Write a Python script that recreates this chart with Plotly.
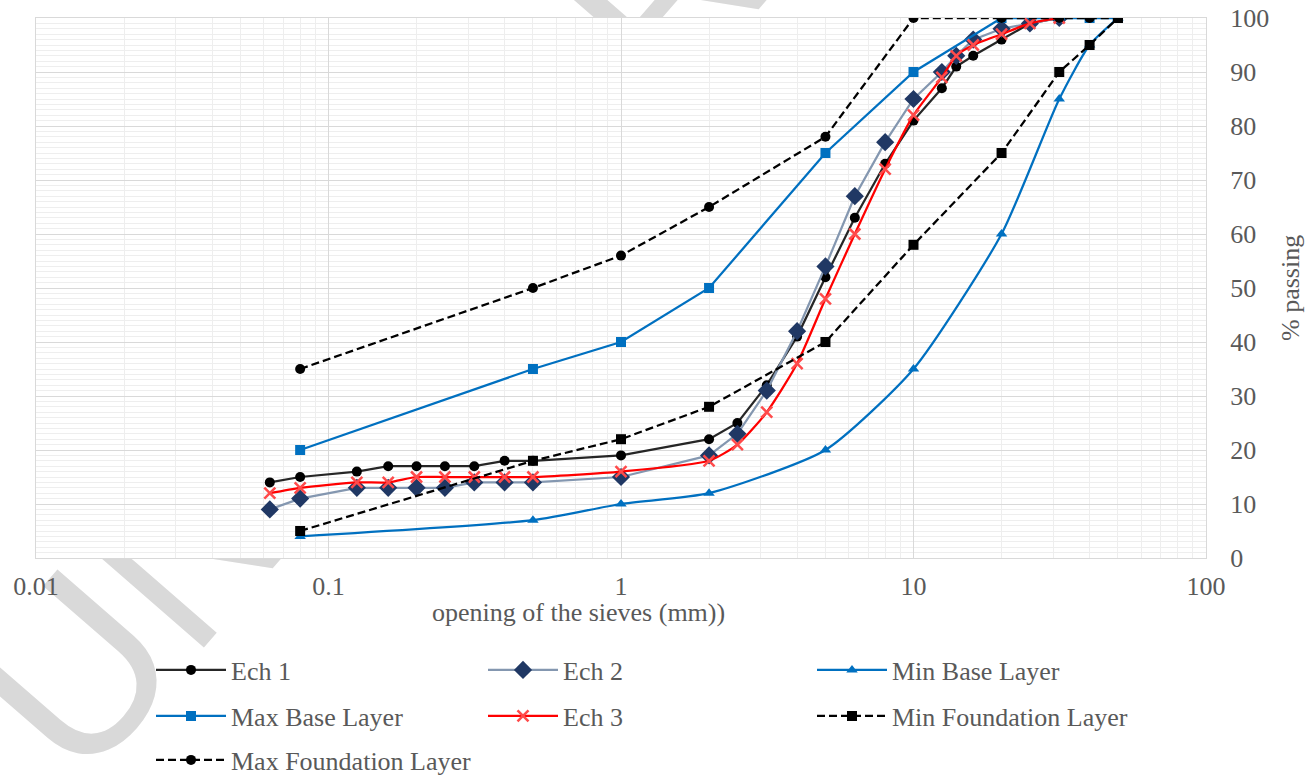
import base64
import plotly.graph_objects as go

# ---------------- data ----------------
sieves_ech = [0.063, 0.08, 0.125, 0.16, 0.2, 0.25, 0.315, 0.4, 0.5, 1, 2, 2.5,
              3.15, 4, 5, 6.3, 8, 10, 12.5, 14, 16, 20, 25, 31.5]
ech1 = [14, 15, 16, 17, 17, 17, 17, 18, 18, 19, 22, 25, 32, 41, 52, 63, 73, 81,
        87, 91, 93, 96, 99, 100]
ech2 = [9, 11, 13, 13, 13, 13, 14, 14, 14, 15, 19, 23, 31, 42, 54, 67, 77, 85,
        90, 93, 96, 98, 99, 100]
ech3 = [12, 13, 14, 14, 15, 15, 15, 15, 15, 16, 18, 21, 27, 36, 48, 60, 72, 82,
        89, 93, 95, 97, 99, 100]

sieves_spec = [0.08, 0.5, 1, 2, 5, 10, 20, 31.5, 40, 50]
min_base = [4, 7, 10, 12, 20, 35, 60, 85, 95, 100]
max_base = [20, 35, 40, 50, 75, 90, 100, 100, 100, 100]
min_found = [5, 18, 22, 28, 40, 58, 75, 90, 95, 100]
max_found = [35, 50, 56, 65, 78, 100, 100, 100, 100, 100]

x_ticks = [0.01, 0.1, 1, 10, 100]
x_title = "opening of the sieves (mm))"
y_title = "% passing"

# ---------------- style ----------------
W, H = 1308, 776
ML, MR, MT, MB = 36, 102, 18, 218
pw, ph = W - ML - MR, H - MT - MB
FONT = "Liberation Serif, Times New Roman, serif"
TXT = "#595959"
BLUE = "#0070C0"


def ypx(p):
    return (MT + ph - p) / ph


def xpx(p):
    return (p - ML) / pw


# legend slot of each entry (pixel position of its symbol), 3 columns x 3 rows
cols = [151, 483, 812]
rows = [670, 716, 760]

fig = go.Figure()
traces = []


def add(name, x, y, lcolor, symbol, msize, mcolor, slot, dash="solid",
        shape="linear", mline=0, mlcolor=None):
    lid = "legend" if not traces else f"legend{len(traces) + 1}"
    traces.append((lid, slot))
    fig.add_trace(go.Scatter(
        x=x, y=y, name=name, mode="lines+markers", legend=lid, showlegend=True,
        line=dict(color=lcolor, width=2.25, dash=dash, shape=shape, smoothing=0.6),
        marker=dict(symbol=symbol, size=msize, color=mcolor,
                    line=dict(width=mline, color=mlcolor or mcolor)),
    ))


add("Ech 1", sieves_ech, ech1, "#262626", "circle", 10, "#000000", (0, 0))
add("Ech 2", sieves_ech, ech2, "#8497B0", "diamond", 14, "#203864", (1, 0))
add("Min Base Layer", sieves_spec, min_base, BLUE, "triangle-up", 10, BLUE, (2, 0),
    shape="spline")
add("Max Base Layer", sieves_spec, max_base, BLUE, "square", 10, BLUE, (0, 1))
add("Ech 3", sieves_ech, ech3, "#FF0000", "x-thin", 11, "#FF4B4B", (1, 1),
    shape="spline", mline=2.5, mlcolor="#FF4B4B")
add("Min Foundation Layer", sieves_spec, min_found, "#000000", "square", 10, "#000000",
    (2, 1), dash="8px,4px")
add("Max Foundation Layer", sieves_spec, max_found, "#000000", "circle", 10, "#000000",
    (0, 2), dash="8px,4px")

# ---------------- watermark (behind the plot area) ----------------
svg = f'''<svg xmlns="http://www.w3.org/2000/svg" width="{W}" height="{H}" viewBox="0 0 {W} {H}">
<defs><clipPath id="c"><path clip-rule="evenodd" d="M0 0H{W}V{H}H0Z M{ML} {MT}H{ML+pw}V{MT+ph}H{ML}Z"/></clipPath></defs>
<g clip-path="url(#c)"><text x="0" y="0" transform="translate(80,790) rotate(-49)"
font-family="Liberation Sans, Arial, sans-serif" font-size="235" fill="#d9d9d9">UNDER REVIEW</text></g></svg>'''
src = "data:image/svg+xml;base64," + base64.b64encode(svg.encode()).decode()
fig.add_layout_image(dict(source=src, xref="paper", yref="paper",
                          x=-ML / pw, y=1 + MT / ph, sizex=W / pw, sizey=H / ph,
                          xanchor="left", yanchor="top", sizing="stretch",
                          layer="below"))

leg_common = dict(orientation="h", font=dict(family=FONT, size=26, color=TXT),
                  itemwidth=70, bgcolor="rgba(0,0,0,0)", xanchor="left",
                  yanchor="middle", itemclick=False, itemdoubleclick=False)
legends = {}
for lid, (c, r) in traces:
    legends[lid] = dict(x=xpx(cols[c]), y=ypx(rows[r]), **leg_common)

fig.update_layout(
    width=W, height=H, margin=dict(l=ML, r=MR, t=MT, b=MB, autoexpand=False),
    showlegend=True,
    paper_bgcolor="white", plot_bgcolor="white",
    font=dict(family=FONT, size=26, color=TXT),
    xaxis=dict(type="log", range=[-2, 2], tickmode="array", tickvals=x_ticks,
               ticktext=[str(v) for v in x_ticks], ticks="",
               showgrid=True, gridcolor="#d9d9d9", gridwidth=1.3,
               minor=dict(showgrid=True, gridcolor="#eeeeee", dtick="D1", ticks=""),
               showline=True, linecolor="#d9d9d9", linewidth=1.3, mirror=True,
               zeroline=False, ticklabelstandoff=5,
               tickfont=dict(family=FONT, size=26, color=TXT)),
    yaxis=dict(range=[0, 100], dtick=10, side="right", ticks="",
               showgrid=True, gridcolor="#d9d9d9", gridwidth=1.3,
               minor=dict(showgrid=True, gridcolor="#eeeeee", dtick=1, ticks=""),
               showline=True, linecolor="#d9d9d9", linewidth=1.3, mirror=True,
               zeroline=False, ticklabelstandoff=18,
               tickfont=dict(family=FONT, size=26, color=TXT)),
    annotations=[
        dict(text=x_title, xref="paper", yref="paper", x=xpx(578), y=ypx(612),
             showarrow=False, xanchor="center", yanchor="middle",
             font=dict(family=FONT, size=26, color=TXT)),
        dict(text=y_title, xref="paper", yref="paper", x=xpx(1290), y=0.5,
             showarrow=False, textangle=-90, xanchor="center", yanchor="middle",
             font=dict(family=FONT, size=26, color=TXT)),
    ],
    **legends,
)

fig.write_html("out.html",
               config={"displayModeBar": False},
               post_script="document.body.style.margin='0';"
                           "document.body.style.overflow='hidden';")
